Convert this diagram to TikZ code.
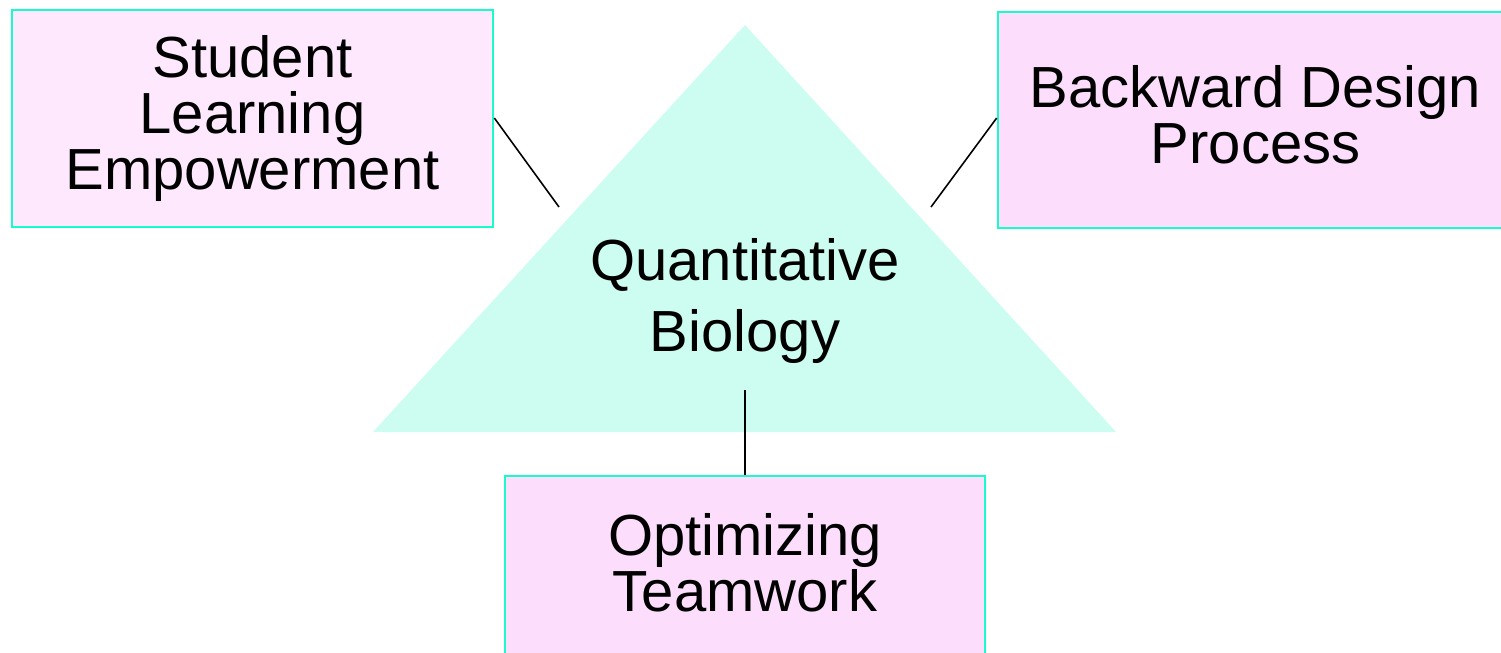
\documentclass[tikz,border=0pt]{standalone}
\usepackage{fontspec}
\setmainfont{Liberation Sans}
\definecolor{boxedge}{RGB}{25,250,205}
\definecolor{pinklt}{RGB}{253,232,253}
\definecolor{pinkdk}{RGB}{252,222,252}
\definecolor{mint}{RGB}{204,253,240}
\tikzset{topic/.style={draw=boxedge,line width=0.75pt,inner sep=0pt},
  words/.style={align=center,inner sep=0pt,font=\fontsize{16.5}{15.8}\selectfont}}
\begin{document}
\begin{tikzpicture}
     \useasboundingbox (0,0) rectangle (15.01,6.52);
     \clip (0,0) rectangle (15.01,6.52);
     \fill[mint] (7.45,6.27) -- (3.73,2.20) -- (11.16,2.20) -- cycle;
     \node[words,font=\fontsize{16.5}{20}\selectfont] (qb) at (7.45,3.51) {Quantitative\\Biology};
     \node[topic,fill=pinklt,minimum width=4.81cm,minimum height=2.17cm] (sle) at (2.525,5.335) {};
     \node[words] (slet) at (sle) {Student\\Learning\\Empowerment};
     \node[topic,fill=pinkdk,minimum width=5.07cm,minimum height=2.16cm] (bdp) at (12.515,5.32) {};
     \node[words] (bdpt) at ([shift={(0.04,0.05)}]bdp) {Backward Design\\Process};
     \node[topic,fill=pinkdk,minimum width=4.80cm,minimum height=1.86cm] (ot) at (7.45,0.83) {};
     \node[words] (ott) at ([yshift=0.06cm]ot) {Optimizing\\Teamwork};
     \coordinate (l) at (5.59,4.45);
     \coordinate (r) at (9.31,4.45);
     \coordinate (b) at (7.45,2.62);
     \draw[line width=0.45pt] (sle.east |- 0,5.34) -- (l);
     \draw[line width=0.45pt] (bdp.west |- 0,5.34) -- (r);
     \draw[line width=0.45pt] (b) -- (ot.north);
   \end{tikzpicture}
\end{document}
